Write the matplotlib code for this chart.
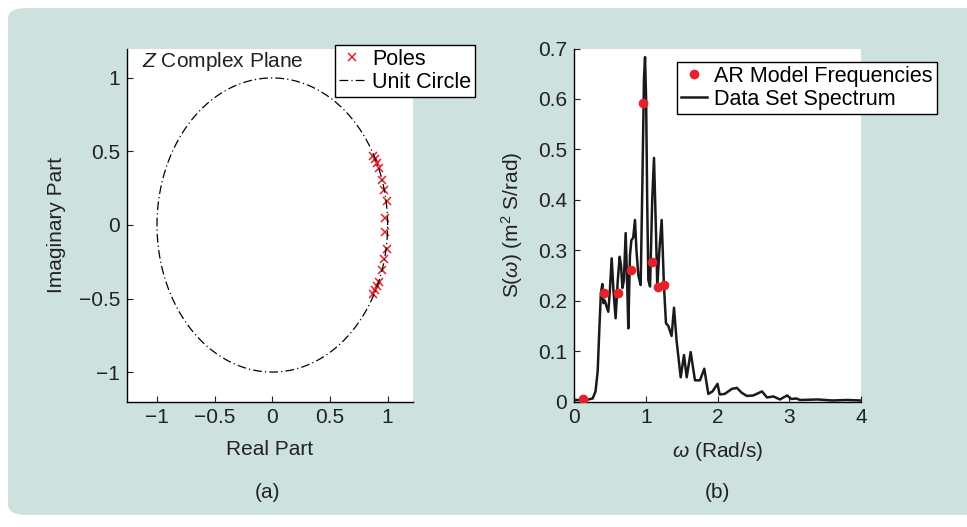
import numpy as np
import matplotlib
matplotlib.use("Agg")
import matplotlib.pyplot as plt
from matplotlib.patches import FancyBboxPatch

plt.rcParams['font.family'] = ['Liberation Sans', 'DejaVu Sans']
plt.rcParams['mathtext.fontset'] = 'custom'
plt.rcParams['mathtext.rm'] = 'Liberation Sans'
plt.rcParams['mathtext.it'] = 'Liberation Sans:italic'

# ── data ───────────────────────────────────────────────────────
pole_re = [0.873, 0.887, 0.907, 0.925, 0.951, 0.968, 0.991, 0.974,
           0.974, 0.991, 0.968, 0.951, 0.922, 0.907, 0.894, 0.876]
pole_im = [0.469, 0.447, 0.420, 0.386, 0.306, 0.238, 0.163, 0.050,
           -0.048, -0.161, -0.233, -0.306, -0.386, -0.415, -0.442, -0.469]

ar_freq = [0.13, 0.418, 0.609, 0.794, 0.966, 1.087, 1.175, 1.25]
ar_amp = [0.004, 0.216, 0.215, 0.261, 0.591, 0.277, 0.228, 0.231]

omega = [0.0, 0.1, 0.2, 0.26, 0.30, 0.33, 0.355, 0.375, 0.395, 0.41,
         0.43, 0.45, 0.478, 0.50, 0.525, 0.55, 0.58, 0.61, 0.636, 0.655,
         0.675, 0.695, 0.72, 0.74, 0.757, 0.78, 0.80, 0.825, 0.85, 0.87,
         0.897, 0.929, 0.955, 0.975, 0.99, 1.005, 1.02, 1.036, 1.06, 1.09,
         1.115, 1.14, 1.161, 1.19, 1.222, 1.254, 1.282, 1.314, 1.36, 1.394,
         1.43, 1.487, 1.533, 1.571, 1.626, 1.686, 1.756, 1.816, 1.872, 1.93,
         2.0, 2.03, 2.1, 2.2, 2.27, 2.34, 2.41, 2.5, 2.62, 2.69,
         2.78, 2.87, 2.97, 3.03, 3.1, 3.15, 3.4, 3.6, 3.8, 4.0]
spectrum = [0.003, 0.003, 0.004, 0.006, 0.02, 0.06, 0.15, 0.215, 0.233, 0.195,
            0.2, 0.19, 0.178, 0.22, 0.284, 0.22, 0.165, 0.24, 0.287, 0.27,
            0.225, 0.24, 0.334, 0.24, 0.145, 0.29, 0.32, 0.325, 0.36, 0.30,
            0.25, 0.231, 0.45, 0.64, 0.683, 0.6, 0.4, 0.241, 0.228, 0.4,
            0.483, 0.35, 0.228, 0.3, 0.36, 0.228, 0.155, 0.15, 0.13, 0.186,
            0.12, 0.048, 0.092, 0.048, 0.098, 0.042, 0.042, 0.065, 0.015, 0.02,
            0.035, 0.014, 0.015, 0.025, 0.027, 0.017, 0.011, 0.012, 0.02, 0.008,
            0.01, 0.004, 0.012, 0.005, 0.006, 0.003, 0.004, 0.002, 0.003, 0.002]

teal = '#cde1de'
red = '#e8202a'
ink = '#222222'
W, H = 967, 527
fs = 15

fig = plt.figure(figsize=(W / 100, H / 100), dpi=100, facecolor='white')

# rounded teal panel behind everything
panel = FancyBboxPatch((8 / W, 12 / H), 1.2, (H - 20) / H,
                       boxstyle='round,pad=0,rounding_size=0.02',
                       transform=fig.transFigure, facecolor=teal,
                       edgecolor='none', zorder=-10)
fig.patches.append(panel)


def style_axes(ax):
    for side in ('top', 'right'):
        ax.spines[side].set_visible(False)
    for side in ('left', 'bottom'):
        ax.spines[side].set_linewidth(1.0)
    ax.tick_params(direction='in', length=4, width=0.8, labelsize=fs,
                   pad=5, colors=ink)


def add_legend(ax, x, y):
    leg = ax.legend(loc='upper left', bbox_to_anchor=(x / W, 1 - y / H),
                    bbox_transform=fig.transFigure, borderaxespad=0,
                    fontsize=15.5, frameon=True, fancybox=False,
                    edgecolor='black', framealpha=1, handlelength=1.2,
                    handletextpad=0.35, labelspacing=0.1, borderpad=0.18)
    leg.get_frame().set_linewidth(1.0)
    return leg


# ── (a) pole plot ──────────────────────────────────────────────
ax1 = fig.add_axes([127 / W, 1 - 401.5 / H, 286 / W, 353 / H])
th = np.linspace(0, 2 * np.pi, 400)
ax1.plot(pole_re, pole_im, 'x', color=red, ms=5.5, mew=1.1, label='Poles')
ax1.plot(np.cos(th), np.sin(th), color='black', lw=0.9,
         dashes=[7, 2.5, 1, 2.5], label='Unit Circle')
ax1.set_xlim(-1.26, 1.22)
ax1.set_ylim(-1.2, 1.2)
ax1.set_xticks([-1, -0.5, 0, 0.5, 1])
ax1.set_xticklabels(['\u22121', '\u22120.5', '0', '0.5', '1'])
ax1.set_yticks([-1, -0.5, 0, 0.5, 1])
ax1.set_yticklabels(['\u22121', '\u22120.5', '0', '0.5', '1'])
style_axes(ax1)
ax1.set_xlabel('Real Part', fontsize=fs, labelpad=9, color=ink)
ax1.set_ylabel('Imaginary Part', fontsize=fs, labelpad=9, color=ink)
ax1.text(142 / W, 1 - 50 / H, '$Z$ Complex Plane', transform=fig.transFigure,
         fontsize=fs, va='top', ha='left', color=ink)
add_legend(ax1, 335, 45)

# ── (b) spectrum ───────────────────────────────────────────────
ax2 = fig.add_axes([574 / W, 1 - 401.5 / H, 287 / W, 353 / H])
ax2.plot(ar_freq, ar_amp, 'o', color=red, ms=7, mec='none',
         label='AR Model Frequencies', zorder=3)
ax2.plot(omega, spectrum, color='#1a1a1a', lw=1.8,
         label='Data Set Spectrum', zorder=2)
ax2.set_xlim(0, 4)
ax2.set_ylim(0, 0.7)
ax2.set_xticks([0, 1, 2, 3, 4])
ax2.set_yticks(np.arange(0, 0.71, 0.1))
ax2.set_yticklabels(['0', '0.1', '0.2', '0.3', '0.4', '0.5', '0.6', '0.7'])
style_axes(ax2)
ax2.set_xlabel('$\\omega$ (Rad/s)', fontsize=fs, labelpad=9, color=ink)
ax2.set_ylabel('S($\\omega$) (m$^2$ S/rad)', fontsize=fs, labelpad=9,
               color=ink)
add_legend(ax2, 677, 62)

fig.text(268 / W, 1 - 492 / H, '(a)', fontsize=fs, ha='center',
         va='center', color=ink)
fig.text(717 / W, 1 - 492 / H, '(b)', fontsize=fs, ha='center',
         va='center', color=ink)

fig.savefig('out.png', dpi=100, facecolor='white')
